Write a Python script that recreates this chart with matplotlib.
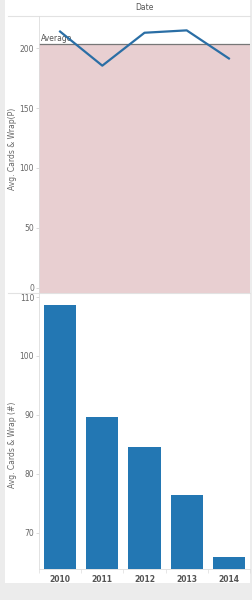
import numpy as np
import matplotlib.pyplot as plt
from matplotlib.patches import Rectangle

years = ['2010', '2011', '2012', '2013', '2014']
cards_wrap_p = [214, 185.5, 213, 215, 191.5]
cards_wrap_n = [108.6, 89.6, 84.6, 76.3, 65.9]

W, H = 253, 600
fig = plt.figure(figsize=(W / 100, H / 100), dpi=100, facecolor='#ececec')


def px(x0, y0, x1, y1):
    # pixel box (top-left origin) -> figure fraction rect
    return [x0 / W, 1 - y1 / H, (x1 - x0) / W, (y1 - y0) / H]


# white panel behind everything
fig.patches.append(Rectangle((5 / W, 1 - 583 / H), 245 / W, 583 / H,
                             transform=fig.transFigure, facecolor='white',
                             edgecolor='none', zorder=-10))
# header divider + panel divider
for yy in (16, 293):
    fig.add_artist(plt.Line2D([8 / W, 250 / W], [1 - yy / H, 1 - yy / H],
                              transform=fig.transFigure, color='#e2e2e2', lw=0.8, zorder=-5))
fig.text(144 / W, 1 - 7 / H, 'Date', ha='center', va='center', fontsize=5.5, color='#555555')

tick_kw = dict(labelsize=5.5, labelcolor='#666666', length=2, width=0.5, color='#cccccc', pad=1.5)
x = np.arange(len(years))

# top: line with average band
ax1 = fig.add_axes(px(39, 16, 250, 293))
ax1.patch.set_alpha(0)
avg = np.mean(cards_wrap_p)
ylo = -4.5
ax1.set_ylim(ylo, 227)
ax1.set_xlim(-0.5, len(years) - 0.5)
ax1.axhspan(ylo, avg, color='#e8cfd1', lw=0, zorder=0)
ax1.axhline(avg, color='#777777', lw=0.9, zorder=1)
ax1.text(-0.46, avg + 1, 'Average', fontsize=5.5, color='#555555', va='bottom', ha='left')
ax1.plot(x, cards_wrap_p, color='#2a6ea5', lw=1.6, zorder=3)
ax1.set_yticks([0, 50, 100, 150, 200])
ax1.set_xticks([])
ax1.tick_params(axis='y', **tick_kw)
for s in ('top', 'right', 'bottom'):
    ax1.spines[s].set_visible(False)
ax1.spines['left'].set_color('#dddddd')
ax1.spines['left'].set_linewidth(0.6)
ax1.set_ylabel('Avg. Cards & Wrap(P)', fontsize=5.5, color='#666666')
ax1.yaxis.set_label_coords(-21.5 / 211, 0.52)

# bottom: bars
ax2 = fig.add_axes(px(39, 293, 250, 569))
ax2.patch.set_alpha(0)
blo, bhi = 63.8, 110.7
ax2.set_ylim(blo, bhi)
ax2.set_xlim(-0.5, len(years) - 0.5)
ax2.bar(x, np.array(cards_wrap_n) - blo, bottom=blo, width=0.76, color='#2377b3', zorder=2)
ax2.set_yticks([70, 80, 90, 100, 110])
ax2.set_xticks(x)
ax2.set_xticklabels(years, fontweight='bold')
ax2.tick_params(axis='y', **tick_kw)
ax2.tick_params(axis='x', labelsize=5.5, labelcolor='#555555', length=0, pad=4)
ax2.set_xticks(np.arange(-0.5, len(years), 1), minor=True)
ax2.tick_params(axis='x', which='minor', length=3, width=0.5, color='#dddddd')
for s in ('top', 'right'):
    ax2.spines[s].set_visible(False)
for s in ('left', 'bottom'):
    ax2.spines[s].set_color('#dddddd')
    ax2.spines[s].set_linewidth(0.6)
ax2.set_ylabel('Avg. Cards & Wrap (#)', fontsize=5.5, color='#666666')
ax2.yaxis.set_label_coords(-21.5 / 211, 0.45)

fig.savefig('out.png', dpi=100, facecolor=fig.get_facecolor())
